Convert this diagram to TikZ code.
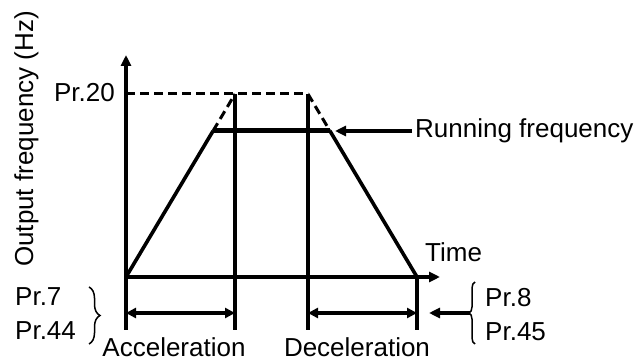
\documentclass[tikz,border=0pt]{standalone}
\usepackage{fontspec}
\setmainfont{Liberation Sans}
\usetikzlibrary{arrows.meta,decorations.pathreplacing}
\begin{document}
\begin{tikzpicture}[x=1pt,y=-1pt,
  axisline/.style={line width=4pt},
  rampline/.style={line width=3.6pt},
  runline/.style={line width=5pt},
  dashline/.style={line width=3pt, dash pattern=on 9pt off 5pt},
  lbl/.style={font=\fontsize{26}{30}\selectfont, inner sep=0pt},
  tipa/.style={-{Triangle[length=11pt,width=10pt]}},
  dimarrow/.style={line width=3.6pt,{Triangle[length=10pt,width=10pt]}-{Triangle[length=10pt,width=10pt]}},
  bracestyle/.style={line width=1.5pt, decorate}]
\useasboundingbox (0,0) rectangle (641,363);
% key points
\coordinate (O) at (126,277);
\coordinate (ytop) at (126,55);
\coordinate (ybot) at (126,330);
\coordinate (xend) at (440,277);
\coordinate (f20l) at (126,94);
\coordinate (f20a) at (235,94);
\coordinate (f20b) at (308,94);
\coordinate (ra) at (213,131);
\coordinate (rb) at (330,131);
\coordinate (E) at (417,277);
\coordinate (a1) at (235,330);
\coordinate (b1) at (308,330);
\coordinate (E1) at (417,330);
\coordinate (dA1) at (126,313);
\coordinate (dA2) at (235,313);
\coordinate (dB1) at (308,313);
\coordinate (dB2) at (417,313);
\coordinate (rarrS) at (412,131);
\coordinate (rarrE) at (335,131);
\coordinate (lbT) at (89,287);
\coordinate (lbB) at (89,344);
\coordinate (rbT) at (475,282);
\coordinate (rbB) at (475,344);
\coordinate (rbTip) at (470,313);
\coordinate (rbArr) at (429,313);
% axes
\draw[axisline,tipa] (ybot) -- (ytop);
\draw[axisline,tipa] (O) -- (xend);
% verticals
\draw[axisline] (f20a) -- (a1);
\draw[axisline] (f20b) -- (b1);
\draw[axisline] (E) -- (E1);
% dashed
\draw[dashline] (f20l) -- (f20b);
\draw[dashline] (ra) -- (f20a);
\draw[dashline] (f20b) -- (rb);
% trapezoid
\draw[rampline] (O) -- (ra);
\draw[runline] (ra) -- (rb);
\draw[rampline] (rb) -- (E);
% running arrow
\draw[axisline,tipa] (rarrS) -- (rarrE);
% dimension arrows
\draw[dimarrow] (dA1) -- (dA2);
\draw[dimarrow] (dB1) -- (dB2);
\draw[axisline,tipa] (rbTip) -- (rbArr);
% braces
\draw[bracestyle, decoration={brace, amplitude=11pt}] (lbT) -- (lbB);
\draw[bracestyle, decoration={brace, amplitude=6pt}] (rbB) -- (rbT);
% labels
\node[lbl, anchor=base east] (pr20) at (115,102) {Pr.20};
\node[lbl, anchor=base west] (runf) at (415,138) {Running frequency};
\node[lbl, anchor=base west] (time) at (425,262) {Time};
\node[lbl, anchor=base west] (pr7) at (15,306) {Pr.7};
\node[lbl, anchor=base west] (pr44) at (15,340) {Pr.44};
\node[lbl, anchor=base west] (pr8) at (485,307) {Pr.8};
\node[lbl, anchor=base west] (pr45) at (485,341) {Pr.45};
\node[lbl, anchor=base] (acc) at (174,357) {Acceleration};
\node[lbl, anchor=base] (dec) at (357,357) {Deceleration};
\node[lbl, rotate=90, anchor=center] (ylab) at (26.5,139) {Output frequency (Hz)};
\end{tikzpicture}
\end{document}
